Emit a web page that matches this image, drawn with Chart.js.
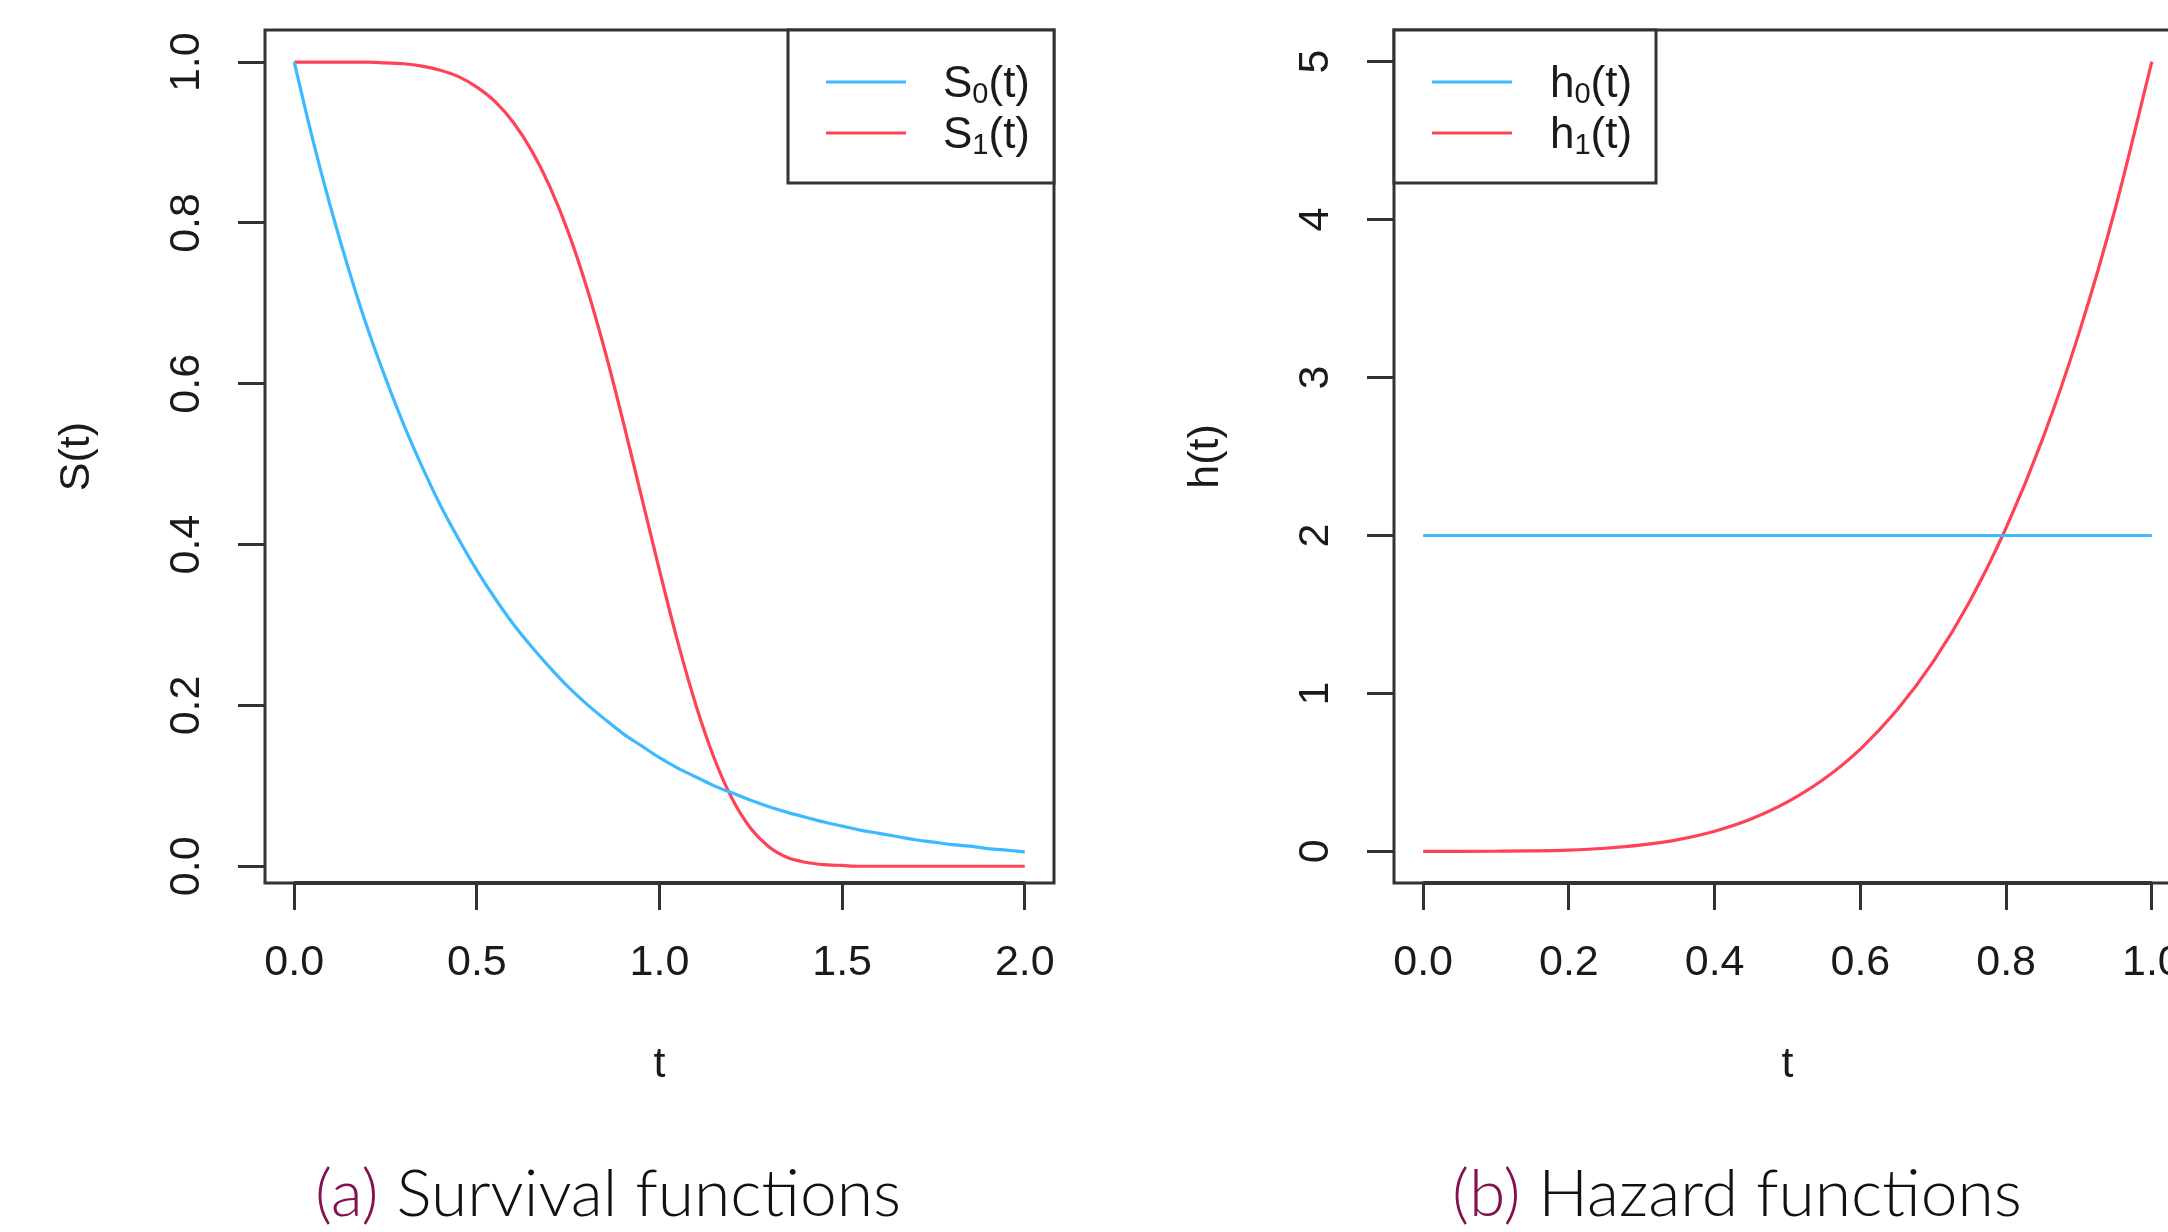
<!DOCTYPE html>
<html>
<head>
<meta charset="utf-8">
<script src="https://cdn.jsdelivr.net/npm/chart.js@4.4.1/dist/chart.umd.min.js"></script>
<style>
  html, body { margin: 0; padding: 0; background: #fff; overflow: hidden; width: 2168px; height: 1232px; }
  .panel { position: absolute; top: 0; }
  #wrapA { left: 0; width: 1090px; height: 1130px; }
  #wrapB { left: 1090px; width: 1110px; height: 1130px; }
  .caption { position: absolute; top: 1154px; font-family: Lato, "Open Sans", sans-serif; font-weight: 300;
             font-size: 66px; line-height: 74px; color: #111; white-space: nowrap; }
  .caption .tag { color: #84104f; }
</style>
</head>
<body>
<div class="panel" id="wrapA"><canvas id="chartA" width="1090" height="1130"></canvas></div>
<div class="panel" id="wrapB"><canvas id="chartB" width="1110" height="1130"></canvas></div>
<div class="caption" style="left:315px"><span class="tag">(a)</span> Survival functions</div>
<div class="caption" style="left:1452px"><span class="tag">(b)</span> Hazard functions</div>

<script>
(function() {
    'use strict';

    // panel (a): survival curves
    const tSurv = [0, 0.05, 0.1, 0.15, 0.2, 0.25, 0.3, 0.35, 0.4, 0.45, 0.5, 0.55, 0.6, 0.65, 0.7, 0.75, 0.8, 0.85, 0.9, 0.95,
                   1.0, 1.05, 1.1, 1.15, 1.2, 1.25, 1.3, 1.35, 1.4, 1.45, 1.5, 1.55, 1.6, 1.65, 1.7, 1.75, 1.8, 1.85, 1.9, 1.95, 2.0];
    const s0Vals = [1.000, 0.905, 0.819, 0.741, 0.670, 0.607, 0.549, 0.497, 0.449, 0.407, 0.368, 0.333, 0.301, 0.273, 0.247,
                    0.223, 0.202, 0.183, 0.165, 0.150, 0.135, 0.122, 0.111, 0.100, 0.091, 0.082, 0.074, 0.067, 0.061, 0.055,
                    0.050, 0.045, 0.041, 0.037, 0.033, 0.030, 0.027, 0.025, 0.022, 0.020, 0.018];
    const s1Vals = [1.000, 1.000, 1.000, 1.000, 1.000, 0.999, 0.998, 0.995, 0.990, 0.982, 0.969, 0.951, 0.925, 0.890, 0.845,
                    0.789, 0.721, 0.642, 0.554, 0.461, 0.368, 0.279, 0.200, 0.134, 0.083, 0.047, 0.024, 0.011, 0.005, 0.002,
                    0.001, 0, 0, 0, 0, 0, 0, 0, 0, 0, 0];
    const survXTicks = [0, 0.5, 1.0, 1.5, 2.0];
    const survYTicks = [0, 0.2, 0.4, 0.6, 0.8, 1.0];

    // panel (b): hazard curves
    const tHaz = [0, 0.05, 0.1, 0.15, 0.2, 0.25, 0.3, 0.35, 0.4, 0.45, 0.5, 0.55, 0.6, 0.65, 0.7, 0.75, 0.8, 0.85, 0.9, 0.95, 1.0];
    const h0Vals = [2, 2, 2, 2, 2, 2, 2, 2, 2, 2, 2, 2, 2, 2, 2, 2, 2, 2, 2, 2, 2];
    const h1Vals = [0, 0.000, 0.001, 0.003, 0.008, 0.020, 0.041, 0.075, 0.128, 0.205, 0.313, 0.458, 0.648, 0.893, 1.201,
                    1.582, 2.048, 2.610, 3.281, 4.073, 5.000];
    const hazXTicks = [0, 0.2, 0.4, 0.6, 0.8, 1.0];
    const hazYTicks = [0, 1, 2, 3, 4, 5];

    const BLUE = '#3dbaff';
    const RED = '#ff4255';
    const INK = '#1a1a1a';
    const FONT = '"Liberation Sans", Arial, Helvetica, sans-serif';

    function pts(xs, ys) {
        return xs.map((x, i) => ({ x: x, y: ys[i] }));
    }

    function drawLabel(ctx, base, sub, x, y) {
        ctx.textAlign = 'left';
        ctx.textBaseline = 'alphabetic';
        ctx.font = '44px ' + FONT;
        ctx.fillText(base, x, y);
        x += ctx.measureText(base).width;
        ctx.font = '29px ' + FONT;
        ctx.fillText(sub, x, y + 6);
        x += ctx.measureText(sub).width;
        ctx.font = '44px ' + FONT;
        ctx.fillText('(t)', x, y);
    }

    // R-style box, rotated y labels, axis titles and legend
    const rStyle = {
        id: 'rStyle',
        afterDraw(chart, args, opts) {
            const ctx = chart.ctx;
            const a = chart.chartArea;
            const xs = chart.scales.x, ys = chart.scales.y;
            ctx.save();
            ctx.strokeStyle = '#333';
            ctx.lineWidth = 3;
            ctx.strokeRect(a.left, a.top, a.right - a.left, a.bottom - a.top);
            // axis line between first and last tick
            ctx.lineWidth = 4;
            ctx.beginPath();
            ctx.moveTo(xs.getPixelForValue(opts.xTicks[0]), a.bottom);
            ctx.lineTo(xs.getPixelForValue(opts.xTicks[opts.xTicks.length - 1]), a.bottom);
            ctx.stroke();

            ctx.fillStyle = INK;
            ctx.font = '43px ' + FONT;
            ctx.textAlign = 'center';
            ctx.textBaseline = 'middle';
            opts.xTicks.forEach(v => ctx.fillText(opts.xFmt(v), xs.getPixelForValue(v), a.bottom + 80));
            opts.yTicks.forEach(v => {
                ctx.save();
                ctx.translate(a.left - 78, ys.getPixelForValue(v));
                ctx.rotate(-Math.PI / 2);
                ctx.fillText(opts.yFmt(v), 0, 0);
                ctx.restore();
            });
            ctx.fillText('t', (a.left + a.right) / 2, a.bottom + 182);
            ctx.save();
            ctx.translate(a.left - 188, (a.top + a.bottom) / 2);
            ctx.rotate(-Math.PI / 2);
            ctx.fillText(opts.yTitle, 0, 0);
            ctx.restore();

            // legend box
            const lg = opts.legend;
            const bx = lg.side === 'right' ? a.right - lg.w : a.left;
            ctx.fillStyle = '#fff';
            ctx.fillRect(bx, a.top, lg.w, lg.h);
            ctx.strokeStyle = '#333';
            ctx.lineWidth = 3;
            ctx.strokeRect(bx, a.top, lg.w, lg.h);
            chart.data.datasets.forEach((ds, i) => {
                const y = a.top + 52 + i * 51;
                ctx.strokeStyle = ds.borderColor;
                ctx.lineWidth = 3;
                ctx.beginPath();
                ctx.moveTo(bx + lg.lineX, y);
                ctx.lineTo(bx + lg.lineX + 80, y);
                ctx.stroke();
                ctx.fillStyle = INK;
                drawLabel(ctx, ds.label, lg.subs[i], bx + lg.textX, y + 15);
            });
            ctx.restore();
        }
    };

    function makeChart(id, cfg) {
        const ticksOf = arr => s => { s.ticks = arr.map(v => ({ value: v })); };
        return new Chart(document.getElementById(id), {
            type: 'line',
            data: {
                datasets: cfg.series.map(s => ({
                    label: s.label,
                    data: pts(s.x, s.y),
                    borderColor: s.color,
                    borderWidth: 3.2,
                    pointRadius: 0,
                    fill: false,
                    cubicInterpolationMode: 'monotone'
                }))
            },
            options: {
                responsive: false,
                animation: false,
                events: [],
                layout: { padding: cfg.padding },
                plugins: {
                    legend: { display: false },
                    tooltip: { enabled: false },
                    rStyle: cfg.style
                },
                scales: {
                    x: {
                        type: 'linear',
                        min: cfg.xRange[0],
                        max: cfg.xRange[1],
                        afterBuildTicks: ticksOf(cfg.style.xTicks),
                        afterFit: s => { s.height = cfg.xHeight; },
                        ticks: { display: false },
                        border: { display: false },
                        grid: { drawOnChartArea: false, drawTicks: true, tickLength: 27, color: '#333', lineWidth: 3 }
                    },
                    y: {
                        type: 'linear',
                        min: cfg.yRange[0],
                        max: cfg.yRange[1],
                        afterBuildTicks: ticksOf(cfg.style.yTicks),
                        afterFit: s => { s.width = cfg.yWidth; },
                        ticks: { display: false },
                        border: { display: false },
                        grid: { drawOnChartArea: false, drawTicks: true, tickLength: 27, color: '#333', lineWidth: 3 }
                    }
                }
            },
            plugins: [rStyle]
        });
    }

    makeChart('chartA', {
        series: [
            { label: 'S', x: tSurv, y: s0Vals, color: BLUE },
            { label: 'S', x: tSurv, y: s1Vals, color: RED }
        ],
        xRange: [-0.08, 2.08],
        yRange: [-0.0208, 1.04],
        padding: { top: 30, right: 36, left: 0, bottom: 0 },
        yWidth: 265,
        xHeight: 247,
        style: {
            xTicks: survXTicks, yTicks: survYTicks,
            xFmt: v => v.toFixed(1), yFmt: v => v.toFixed(1),
            yTitle: 'S(t)',
            legend: { side: 'right', w: 266, h: 153, lineX: 38, textX: 155, subs: ['0', '1'] }
        }
    });

    makeChart('chartB', {
        series: [
            { label: 'h', x: tHaz, y: h0Vals, color: BLUE },
            { label: 'h', x: tHaz, y: h1Vals, color: RED }
        ],
        xRange: [-0.04, 1.04],
        yRange: [-0.2, 5.2],
        padding: { top: 30, right: 19, left: 0, bottom: 0 },
        yWidth: 304,
        xHeight: 247,
        style: {
            xTicks: hazXTicks, yTicks: hazYTicks,
            xFmt: v => v.toFixed(1), yFmt: v => String(v),
            yTitle: 'h(t)',
            legend: { side: 'left', w: 262, h: 153, lineX: 38, textX: 156, subs: ['0', '1'] }
        }
    });
})();
</script>
</body>
</html>
